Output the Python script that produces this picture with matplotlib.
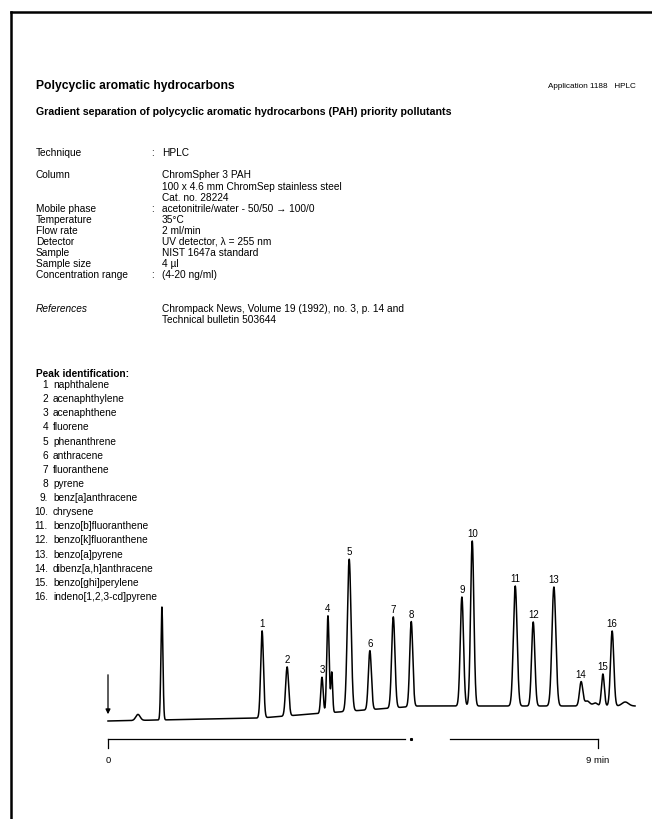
import numpy as np
import matplotlib
matplotlib.use("Agg")
import matplotlib.pyplot as plt
from matplotlib.lines import Line2D

plt.rcParams["font.family"] = ["Liberation Sans", "DejaVu Sans"]

W, H = 652, 820  # page size in pixels

# ---- method sheet text
title = "Polycyclic aromatic hydrocarbons"
app_note = "Application 1188   HPLC"
subtitle = "Gradient separation of polycyclic aromatic hydrocarbons (PAH) priority pollutants"

cond_labels = ["Technique", "Column", "", "", "Mobile phase", "Temperature", "Flow rate",
               "Detector", "Sample", "Sample size", "Concentration range"]
cond_values = ["HPLC", "ChromSpher 3 PAH", "100 x 4.6 mm ChromSep stainless steel",
               "Cat. no. 28224", "acetonitrile/water - 50/50 \u2192 100/0", "35\u00b0C",
               "2 ml/min", "UV detector, \u03bb = 255 nm", "NIST 1647a standard",
               "4 \u00b5l", "(4-20 ng/ml)"]
cond_colon = [True, False, False, False, True, False, False, False, False, False, True]
references = ["Chrompack News, Volume 19 (1992), no. 3, p. 14 and",
              "Technical bulletin 503644"]

# ---- peaks
peak_no = list(range(1, 17))
peak_names = ["naphthalene", "acenaphthylene", "acenaphthene", "fluorene",
              "phenanthrene", "anthracene", "fluoranthene", "pyrene",
              "benz[a]anthracene", "chrysene", "benzo[b]fluoranthene",
              "benzo[k]fluoranthene", "benzo[a]pyrene", "dibenz[a,h]anthracene",
              "benzo[ghi]perylene", "indeno[1,2,3-cd]pyrene"]
peak_time = [2.83, 3.29, 3.93, 4.04, 4.43, 4.81, 5.24, 5.57,
             6.50, 6.69, 7.48, 7.81, 8.19, 8.69, 9.09, 9.26]      # min
peak_height = [87, 49, 36, 97, 152, 59, 91, 85,
               109, 165, 120, 84, 119, 24, 32, 75]
peak_sigma = [0.026, 0.028, 0.022, 0.022, 0.034, 0.028, 0.030, 0.028,
              0.030, 0.030, 0.034, 0.030, 0.036, 0.030, 0.026, 0.030]

# unlabelled features: solvent front, small bumps, shoulder after 4
extra_time = [0.55, 0.99, 4.11, 8.80, 8.95, 9.50]
extra_height = [6, 113, 40, 5, 3, 4]
extra_sigma = [0.04, 0.018, 0.016, 0.05, 0.04, 0.06]

# baseline drift of the gradient
base_time = [0.0, 2.8, 3.5, 5.7, 9.7]
base_level = [0.0, 3.0, 6.0, 15.0, 15.0]

run_end = 9.68

fig = plt.figure(figsize=(W / 100, H / 100), dpi=100)


def put(px, py, s, **kw):
    kw.setdefault("va", "center")
    kw.setdefault("fontsize", 7.3)
    fig.text(px / W, 1 - py / H, s, **kw)


# page frame (scanned sheet edge)
fig.add_artist(Line2D([11 / W, 1], [1 - 13 / H, 1 - 13 / H], color="k", lw=1.8))
fig.add_artist(Line2D([11 / W, 11 / W], [0, 1 - 13 / H], color="k", lw=1.8))

put(36, 86, title, fontsize=8.7, fontweight="bold")
put(636, 86, app_note, fontsize=5.9, ha="right")
put(36, 112, subtitle, fontsize=7.7, fontweight="bold")

cond_y = [153, 175, 187, 198, 209, 220, 231, 242, 253, 264, 275]
for y, lab, val, col in zip(cond_y, cond_labels, cond_values, cond_colon):
    if lab:
        put(36, y, lab)
    if col:
        put(151, y, ":")
    put(162, y, val)

put(36, 309, "References", style="italic")
for i, r in enumerate(references):
    put(162, 309 + 11 * i, r)

put(36, 374, "Peak identification:", fontweight="bold")
for i, (n, name) in enumerate(zip(peak_no, peak_names)):
    y = 385 + 14.13 * i
    put(48, y, f"{n}" if n < 9 else f"{n}.", ha="right")
    put(53, y, name)

# ---- chromatogram
ppm = 490 / 9.0          # pixels per minute
x0 = 108                  # pixel of t = 0
yb = 722                  # pixel of zero signal
ax_l, ax_r, ax_t, ax_b = 95, 645, 520, 775
ax = fig.add_axes([ax_l / W, 1 - ax_b / H, (ax_r - ax_l) / W, (ax_b - ax_t) / H])
ax.set_xlim((ax_l - x0) / ppm, (ax_r - x0) / ppm)
ax.set_ylim(yb - ax_b, yb - ax_t)
ax.axis("off")

t = np.linspace(0.0, run_end, 6000)
sig = np.interp(t, base_time, base_level)
for tr, h, s in zip(peak_time + extra_time, peak_height + extra_height,
                    peak_sigma + extra_sigma):
    sig = sig + h * np.exp(-0.5 * ((t - tr) / s) ** 2)
ax.plot(t, sig, color="k", lw=1.1)

# injection arrow
ax.annotate("", xy=(0, 4), xytext=(0, 49),
            arrowprops=dict(arrowstyle="-|>", color="k", lw=0.9,
                            mutation_scale=7))

# peak numbers
for n, tr, h in zip(peak_no, peak_time, peak_height):
    lvl = np.interp(tr, base_time, base_level)
    ax.text(tr, lvl + h + 3, str(n), ha="center", va="bottom", fontsize=7)

# time axis with break
ax_y = yb - 740
ax.plot([0, 5.46], [ax_y, ax_y], color="k", lw=0.9)
ax.plot([6.28, 9], [ax_y, ax_y], color="k", lw=0.9)
ax.plot([5.57], [ax_y], marker="s", ms=1.2, color="k")
ax.plot([0, 0], [ax_y, ax_y - 9], color="k", lw=0.9)
ax.plot([9, 9], [ax_y, ax_y - 9], color="k", lw=0.9)
ax.text(0, yb - 761, "0", ha="center", va="center", fontsize=6.8)
ax.text(9, yb - 761, "9 min", ha="center", va="center", fontsize=6.8)

fig.savefig("out.png", dpi=100, facecolor="white")
